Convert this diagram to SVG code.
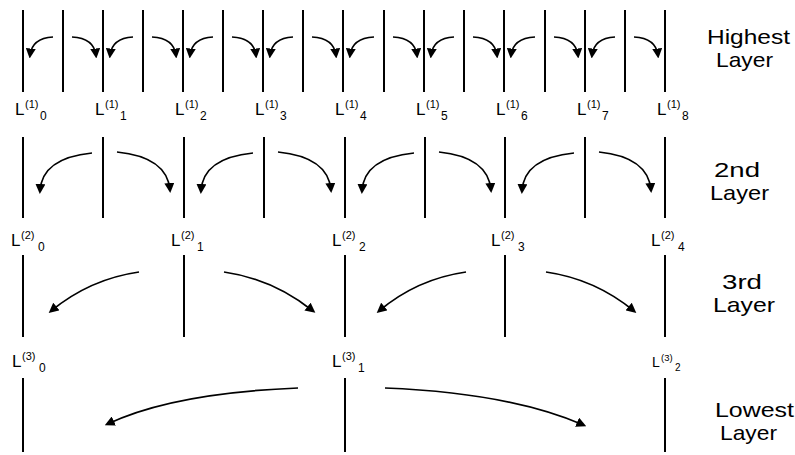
<svg xmlns="http://www.w3.org/2000/svg" width="795" height="455" viewBox="0 0 795 455">
<style>
.ln{stroke:#000;stroke-width:2;fill:none}
.ar{stroke:#000;stroke-width:1.7;fill:none;marker-end:url(#ah)}
.lb{font-family:"Liberation Sans",Arial,sans-serif;fill:#000}
.lb .m{font-size:17px}
.lb .s{font-size:11px}
.lb .d{font-size:12px}
.ly{font-family:"Liberation Sans",Arial,sans-serif;font-size:21px;fill:#000}
</style>
<defs>
<marker id="ah" viewBox="0 0 10 10" refX="7" refY="5" markerWidth="10" markerHeight="10" markerUnits="userSpaceOnUse" orient="auto">
<path d="M0,0 L10,5 L0,10 z" fill="#000"/>
</marker>
</defs>
<rect width="795" height="455" fill="#fff"/>
<g id="layer1-lines" class="ln">
<line x1="23" y1="10" x2="23" y2="92"/><line x1="63" y1="10" x2="63" y2="92"/><line x1="103" y1="10" x2="103" y2="92"/><line x1="143" y1="10" x2="143" y2="92"/><line x1="183" y1="10" x2="183" y2="92"/><line x1="223" y1="10" x2="223" y2="92"/><line x1="263" y1="10" x2="263" y2="92"/><line x1="303" y1="10" x2="303" y2="92"/><line x1="343" y1="10" x2="343" y2="92"/><line x1="384" y1="10" x2="384" y2="92"/><line x1="424" y1="10" x2="424" y2="92"/><line x1="464" y1="10" x2="464" y2="92"/><line x1="504" y1="10" x2="504" y2="92"/><line x1="545" y1="10" x2="545" y2="92"/><line x1="585" y1="10" x2="585" y2="92"/><line x1="625" y1="10" x2="625" y2="92"/><line x1="665" y1="10" x2="665" y2="92"/>
</g>
<g id="layer2-lines" class="ln">
<line x1="23" y1="137" x2="23" y2="218"/><line x1="103" y1="137" x2="103" y2="218"/><line x1="184" y1="137" x2="184" y2="218"/><line x1="264" y1="137" x2="264" y2="218"/><line x1="345" y1="137" x2="345" y2="218"/><line x1="425" y1="137" x2="425" y2="218"/><line x1="505" y1="137" x2="505" y2="218"/><line x1="585" y1="137" x2="585" y2="218"/><line x1="665" y1="137" x2="665" y2="218"/>
</g>
<g id="layer3-lines" class="ln">
<line x1="23" y1="255" x2="23" y2="337"/><line x1="184" y1="255" x2="184" y2="337"/><line x1="345" y1="255" x2="345" y2="337"/><line x1="505" y1="255" x2="505" y2="337"/><line x1="665" y1="255" x2="665" y2="337"/>
</g>
<g id="layer4-lines" class="ln">
<line x1="23" y1="378" x2="23" y2="452"/><line x1="345" y1="378" x2="345" y2="452"/><line x1="665" y1="378" x2="665" y2="452"/>
</g>
<g id="connectors" class="ar">
<path d="M53 37 Q32 38 30 55.5"/><path d="M72 37 Q94 38 96 55.5"/>
<path d="M133 37 Q112 38 110 55.5"/><path d="M152 37 Q174 38 176 55.5"/>
<path d="M213 37 Q192 38 190 55.5"/><path d="M232 37 Q254 38 256 55.5"/>
<path d="M293 37 Q272 38 270 55.5"/><path d="M312 37 Q334 38 336 55.5"/>
<path d="M374 37 Q352 38 350 55.5"/><path d="M393 37 Q415 38 417 55.5"/>
<path d="M454 37 Q433 38 431 55.5"/><path d="M473 37 Q495 38 497 55.5"/>
<path d="M535 37 Q513 38 511 55.5"/><path d="M554 37 Q576 38 578 55.5"/>
<path d="M615 37 Q594 38 592 55.5"/><path d="M634 37 Q656 38 658 55.5"/>
<path d="M92 153 Q42 158 40 191"/><path d="M117 152 Q167 157 170 190"/>
<path d="M253 153 Q203 158 201 191"/><path d="M278 152 Q328 157 331 190"/>
<path d="M414 153 Q364 158 362 191"/><path d="M439 152 Q488 157 491 190"/>
<path d="M574 153 Q524 158 522 191"/><path d="M599 152 Q648 157 651 190"/>
<path d="M139 272 Q90 279 51 311"/><path d="M224 272 Q273 279 313 311"/>
<path d="M466 272 Q417 279 379 311"/><path d="M546 272 Q595 279 634 311"/>
<path d="M298 388 Q173 393 107.5 424"/><path d="M385 388 Q510 393 583.5 425"/>
</g>
<g id="labels-1" class="lb">
<g id="L1_0"><text class="m" x="15" y="115">L</text><text class="s" x="25" y="108">(1)</text><text class="d" x="40" y="120">0</text></g>
<g id="L1_1"><text class="m" x="95" y="115">L</text><text class="s" x="105" y="108">(1)</text><text class="d" x="120" y="120">1</text></g>
<g id="L1_2"><text class="m" x="175" y="115">L</text><text class="s" x="185" y="108">(1)</text><text class="d" x="200" y="120">2</text></g>
<g id="L1_3"><text class="m" x="255" y="115">L</text><text class="s" x="265" y="108">(1)</text><text class="d" x="280" y="120">3</text></g>
<g id="L1_4"><text class="m" x="335" y="115">L</text><text class="s" x="345" y="108">(1)</text><text class="d" x="360" y="120">4</text></g>
<g id="L1_5"><text class="m" x="416" y="115">L</text><text class="s" x="426" y="108">(1)</text><text class="d" x="441" y="120">5</text></g>
<g id="L1_6"><text class="m" x="496" y="115">L</text><text class="s" x="506" y="108">(1)</text><text class="d" x="521" y="120">6</text></g>
<g id="L1_7"><text class="m" x="577" y="115">L</text><text class="s" x="587" y="108">(1)</text><text class="d" x="602" y="120">7</text></g>
<g id="L1_8"><text class="m" x="657" y="115">L</text><text class="s" x="667" y="108">(1)</text><text class="d" x="682" y="120">8</text></g>
</g>
<g id="labels-2" class="lb">
<g id="L2_0"><text class="m" x="11" y="246">L</text><text class="s" x="21" y="239">(2)</text><text class="d" x="38" y="251">0</text></g>
<g id="L2_1"><text class="m" x="171" y="246">L</text><text class="s" x="181" y="239">(2)</text><text class="d" x="197" y="251">1</text></g>
<g id="L2_2"><text class="m" x="332" y="246">L</text><text class="s" x="342" y="239">(2)</text><text class="d" x="359" y="251">2</text></g>
<g id="L2_3"><text class="m" x="491" y="246">L</text><text class="s" x="501" y="239">(2)</text><text class="d" x="518" y="251">3</text></g>
<g id="L2_4"><text class="m" x="651" y="246">L</text><text class="s" x="661" y="239">(2)</text><text class="d" x="678" y="251">4</text></g>
</g>
<g id="labels-3" class="lb">
<g id="L3_0"><text class="m" x="12" y="367">L</text><text class="s" x="22" y="360">(3)</text><text class="d" x="39" y="372">0</text></g>
<g id="L3_1"><text class="m" x="332" y="367">L</text><text class="s" x="342" y="360">(3)</text><text class="d" x="358" y="372">1</text></g>
<g id="L3_2"><text x="652" y="367" font-size="14">L</text><text x="661" y="361" font-size="9.5">(3)</text><text x="675" y="371" font-size="10">2</text></g>
</g>
<g id="layer-names" class="ly">
<g id="name-highest"><text x="707" y="44" textLength="83" lengthAdjust="spacingAndGlyphs">Highest</text><text x="716" y="67" textLength="57" lengthAdjust="spacingAndGlyphs">Layer</text></g>
<g id="name-2nd"><text x="714" y="177" textLength="46" lengthAdjust="spacingAndGlyphs">2nd</text><text x="710" y="200" textLength="59" lengthAdjust="spacingAndGlyphs">Layer</text></g>
<g id="name-3rd"><text x="722" y="289" textLength="40" lengthAdjust="spacingAndGlyphs">3rd</text><text x="713" y="312" textLength="62" lengthAdjust="spacingAndGlyphs">Layer</text></g>
<g id="name-lowest"><text x="715" y="417" textLength="79" lengthAdjust="spacingAndGlyphs">Lowest</text><text x="720" y="440" textLength="57" lengthAdjust="spacingAndGlyphs">Layer</text></g>
</g>
</svg>
